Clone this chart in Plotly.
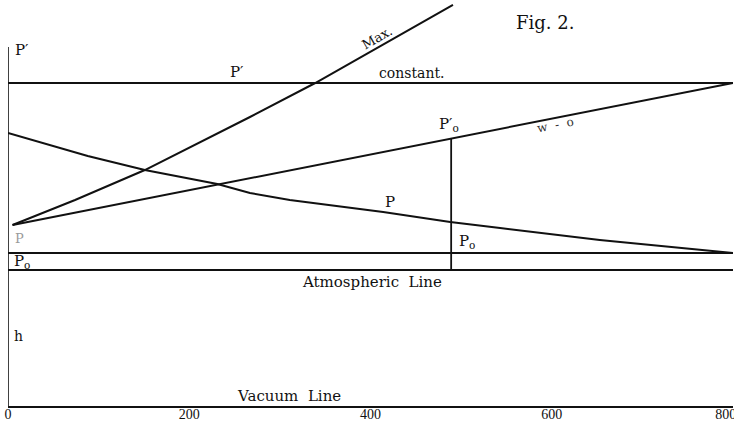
import numpy as np
import plotly.graph_objects as go

# ---- data (x in metres, pressures in atmospheres above vacuum) ----
p_dist = [0, 88, 151, 231, 267, 311, 414, 488, 543, 587, 653, 800]
p_pressure = [2.007, 1.838, 1.735, 1.632, 1.566, 1.515, 1.426, 1.353, 1.309, 1.272, 1.221, 1.125]

max_dist = [5, 74, 151, 267, 339, 491]
max_pressure = [1.331, 1.515, 1.735, 2.125, 2.375, 2.949]

w_dist = [5, 800]
w_pressure = [1.331, 2.375]

p_prime_const = 2.375
p0_level = 1.125
atmospheric = 1.0
vacuum = 0.0
x_end = 800
p0_dist = 489
y_axis_top = 2.64

tick_vals = [0, 200, 400, 600, 800]
tick_text = ["0", "200", "400", "600", "800 m"]

INK = "#111111"
SERIF = "DejaVu Serif, Liberation Serif, serif"

fig = go.Figure()

def line(x, y, w=2.0, color=INK):
    fig.add_trace(go.Scatter(x=x, y=y, mode="lines",
                             line=dict(color=color, width=w),
                             hoverinfo="skip", showlegend=False))

# left pressure axis
line([0, 0], [vacuum, y_axis_top], 1.6)
# horizontal reference lines
line([0, x_end], [p_prime_const, p_prime_const], 2.0)
line([0, x_end], [p0_level, p0_level], 1.8)
line([0, x_end], [atmospheric, atmospheric], 2.0)
# curves
line(max_dist, max_pressure, 2.0)
line(w_dist, w_pressure, 2.0)
line(p_dist, p_pressure, 2.0)
# vertical at P0'
y_w = float(np.interp(p0_dist, w_dist, w_pressure))
line([p0_dist, p0_dist], [atmospheric, y_w], 1.8)

def label(text, x, y, size=15, angle=0, color=INK, family=SERIF, xanchor="center"):
    fig.add_annotation(x=x, y=y, xref="x", yref="y", text=text, showarrow=False,
                       textangle=angle, xanchor=xanchor, yanchor="middle",
                       font=dict(family=family, size=size, color=color))

label("Fig. 2.", 593, 2.82, size=18)
label("P′", 6, 2.62, size=15, xanchor="left")
label("P′", 253, 2.456, size=15)
label("constant.", 446, 2.449, size=14)
label("Max.", 408, 2.706, size=13, angle=-29.5)
label("P′<sub>o</sub>", 487, 2.07, size=15)
label("w  -  o", 604, 2.066, size=12, angle=-11, color="#333333")
label("P", 422, 1.50, size=15)
label("P<sub>o</sub>", 507, 1.213, size=15)
label("P<sub>o</sub>", 4, 1.059, size=15, xanchor="left")
label("P", 5, 1.235, size=13, color="#9a9a9a", xanchor="left")
label("h", 4, 0.515, size=14, xanchor="left")
label("Atmospheric  Line", 402, 0.912, size=15)
label("Vacuum  Line", 310, 0.075, size=15)

fig.update_layout(
    width=734, height=425,
    margin=dict(l=8, r=1, t=0, b=19, autoexpand=False),
    paper_bgcolor="white", plot_bgcolor="white",
    showlegend=False,
    xaxis=dict(range=[0, x_end], tickvals=tick_vals, ticktext=tick_text,
               showgrid=False, zeroline=False, showline=True,
               linecolor=INK, linewidth=2, ticks="",
               ticklabelstandoff=-6, ticklabeloverflow="allow",
               tickfont=dict(family="Liberation Serif, serif", size=14, color=INK),
               automargin=False, fixedrange=True),
    yaxis=dict(range=[vacuum, 406 / 136], showgrid=False, zeroline=False,
               showline=False, showticklabels=False, ticks="",
               automargin=False, fixedrange=True),
)

fig.write_html("out.html",
               config={"displayModeBar": False},
               post_script="document.body.style.margin='0';document.body.style.overflow='hidden';")
